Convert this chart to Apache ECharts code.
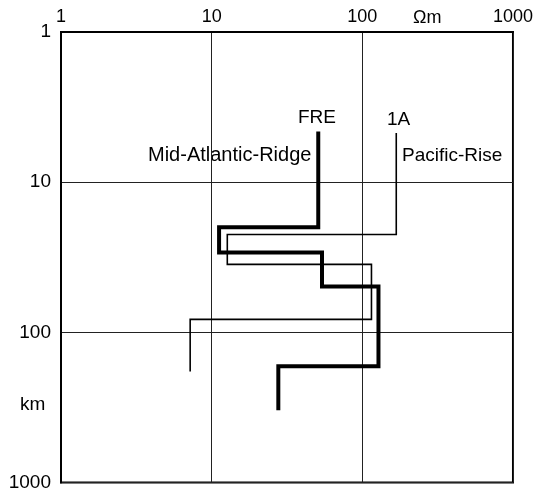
<!DOCTYPE html>
<html>
<head>
<meta charset="utf-8">
<script src="https://cdn.jsdelivr.net/npm/echarts@6/dist/echarts.min.js"></script>
<style>html,body{margin:0;padding:0;background:#fff;}#c{width:536px;height:492px;}</style>
</head>
<body>
<div id="c"></div>
<script>
// Resistivity (Ωm) per layer and layer boundary depths (km)
const freResistivity = [51, 11.2, 54, 128, 27.7];
const freDepths = [4.6, 20, 29.4, 49.5, 168, 330];
const a1Resistivity = [168, 12.7, 115, 7.2];
const a1Depths = [4.7, 22.3, 35.3, 82, 182];
const xTicks = [1, 10, 100, 1000];
const yTicks = [1, 10, 100, 1000];

function stepPoints(res, depths) {
  const pts = [];
  for (let i = 0; i < res.length; i++) {
    pts.push([res[i], depths[i]]);
    pts.push([res[i], depths[i + 1]]);
  }
  return pts;
}

const FONT = 'Liberation Sans';
const chart = echarts.init(document.getElementById('c'), null, {renderer: 'canvas'});
chart.setOption({
  animation: false,
  backgroundColor: '#fff',
  grid: {left: 61, right: 23, top: 32, bottom: 9, show: true, borderColor: '#000', borderWidth: 2},
  xAxis: {
    type: 'log', logBase: 10, min: xTicks[0], max: xTicks[xTicks.length - 1], position: 'top',
    axisLine: {show: true, lineStyle: {color: '#000', width: 2}},
    axisTick: {show: false}, minorTick: {show: false},
    splitLine: {show: true, lineStyle: {color: '#222', width: 1}},
    axisLabel: {color: '#000', fontFamily: FONT, fontSize: 18, margin: 6,
      formatter: v => String(Math.round(v))}
  },
  yAxis: {
    type: 'log', logBase: 10, min: yTicks[0], max: yTicks[yTicks.length - 1], inverse: true,
    axisLine: {show: true, lineStyle: {color: '#000', width: 2}},
    axisTick: {show: false}, minorTick: {show: false},
    splitLine: {show: true, lineStyle: {color: '#222', width: 1}},
    axisLabel: {color: '#000', fontFamily: FONT, fontSize: 19, margin: 10,
      formatter: v => String(Math.round(v))}
  },
  series: [
    {type: 'line', name: 'FRE', data: stepPoints(freResistivity, freDepths), symbol: 'none',
      lineStyle: {color: '#000', width: 4, join: 'miter', cap: 'butt'}},
    {type: 'line', name: '1A', data: stepPoints(a1Resistivity, a1Depths), symbol: 'none',
      lineStyle: {color: '#000', width: 1.6, join: 'miter', cap: 'butt'}}
  ],
  graphic: [
    {type: 'text', left: 413, top: 9, style: {text: 'Ωm', fontFamily: FONT, fontSize: 18, fill: '#000'}},
    {type: 'text', left: 20, top: 395, style: {text: 'km', fontFamily: FONT, fontSize: 19, fill: '#000'}},
    {type: 'text', left: 298, top: 108, style: {text: 'FRE', fontFamily: FONT, fontSize: 19, fill: '#000'}},
    {type: 'text', left: 387, top: 110, style: {text: '1A', fontFamily: FONT, fontSize: 19, fill: '#000'}},
    {type: 'text', left: 148, top: 145, style: {text: 'Mid-Atlantic-Ridge', fontFamily: FONT, fontSize: 20, fill: '#000'}},
    {type: 'text', left: 402, top: 146, style: {text: 'Pacific-Rise', fontFamily: FONT, fontSize: 19, fill: '#000'}}
  ]
});
</script>
</body>
</html>
